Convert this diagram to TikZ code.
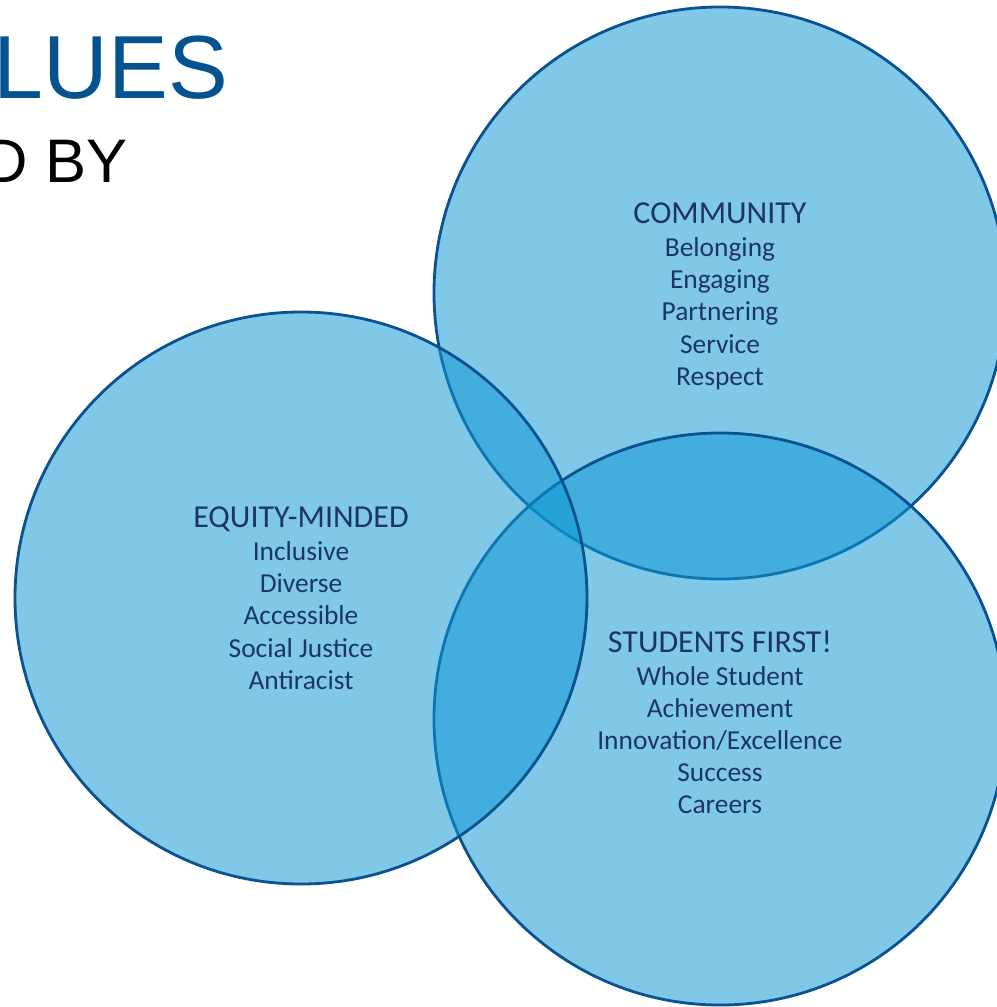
\documentclass[tikz,border=0pt]{standalone}
\usepackage{fontspec}
\setmainfont{Carlito}
\newfontfamily\titlefont{Liberation Sans}
\definecolor{venn}{RGB}{14,151,212}
\definecolor{vennline}{RGB}{10,82,145}
\definecolor{navy}{RGB}{28,52,110}
\definecolor{titleblue}{RGB}{4,82,143}
\tikzset{
  value/.style={circle, draw=vennline, line width=0.8pt, fill=venn, fill opacity=0.53, minimum size=5.72cm, inner sep=0pt},
  heading/.style={anchor=base, text=navy, inner sep=0pt, font=\fontsize{9.1}{11}\selectfont},
  item/.style={anchor=base, text=navy, inner sep=0pt, font=\fontsize{7.8}{9}\selectfont}
}
\begin{document}
\begin{tikzpicture}
      \useasboundingbox (0,0) rectangle (9.97,-10.07);
      \clip (0,0) rectangle (9.97,-10.07);
      
      % title, cut at the left edge
      \node[anchor=base west, inner sep=0pt, text=titleblue, font=\titlefont\fontsize{25.5}{28}\selectfont] (title) at (-0.07,-0.98) {LUES};
      \node[anchor=base west, inner sep=0pt, font=\titlefont\fontsize{17.5}{20}\selectfont] (subtitle) at (-0.17,-1.82) {D BY};
      
      \node[value] (community) at (7.20,-2.93) {};
      \node[value] (students) at (7.20,-7.19) {};
      \node[value] (equity) at (3.01,-5.98) {};
      
      \node[heading] (community-head) at (7.20,-2.23) {COMMUNITY};
      \foreach \w [count=\i] in {Belonging, Engaging, Partnering, Service, Respect} {
      \node[item] (community-\i) at (7.20, {-2.24-0.323*\i}) {\w};
      }
      
      \node[heading] (equity-head) at (3.01,-5.27) {EQUITY-MINDED};
      \foreach \w [count=\i] in {Inclusive, Diverse, Accessible, Social Justice, Antiracist} {
      \node[item] (equity-\i) at (3.01, {-5.28-0.323*\i}) {\w};
      }
      
      \node[heading] (students-head) at (7.20,-6.52) {STUDENTS FIRST!};
      \foreach \w [count=\i] in {Whole Student, Achievement, Innovation/Excellence, Success, Careers} {
      \node[item] (students-\i) at (7.20, {-6.53-0.32*\i}) {\w};
      }
      
    \end{tikzpicture}
\end{document}
